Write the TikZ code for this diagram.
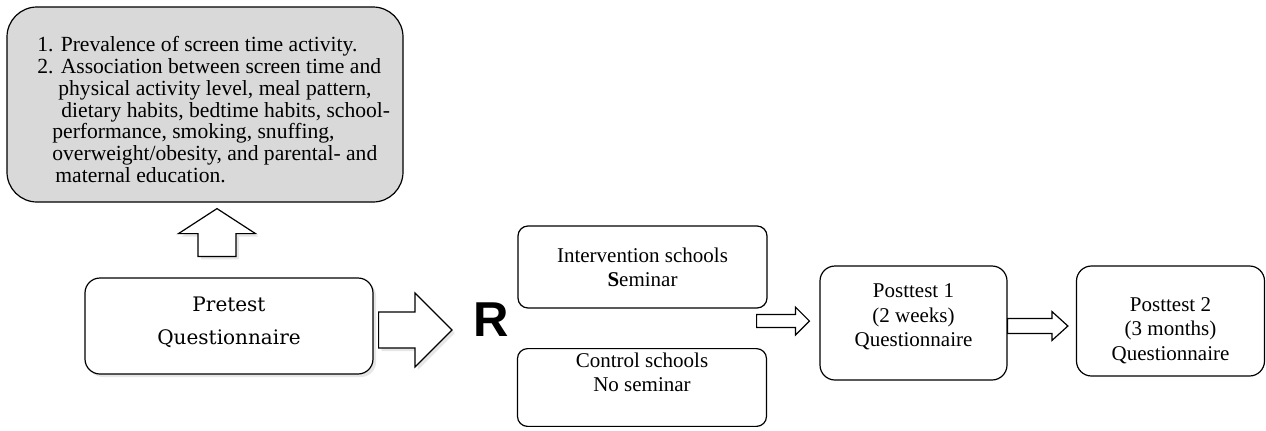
\documentclass[tikz,border=0pt]{standalone}
\usepackage{fontspec}
\setmainfont{Liberation Serif}
\newfontfamily\pretestfont{DejaVu Serif}
\newfontfamily\randfont{Liberation Sans}
\usetikzlibrary{calc,shadows}

\definecolor{goalgray}{HTML}{D9D9D9}

\tikzset{
  roundbox/.style={draw, line width=0.6pt, rounded corners=5pt, align=center, inner sep=2pt},
  postbox/.style={roundbox, rounded corners=7.5pt},
  posttext/.style={align=center, inner sep=0pt, font=\fontsize{10.5}{12.2}\selectfont},
  groupbox/.style={roundbox, minimum width=124.5pt, font=\fontsize{10.5}{12}\selectfont},
  fatarrow/.style={draw, fill=white, line width=0.6pt, line join=miter},
  softshadow/.style={drop shadow={opacity=0.2, shadow xshift=1.5pt, shadow yshift=-1.5pt}}
}

% flecha gruesa horizontal: desde, hasta, medio cuerpo, media punta, largo punta
\newcommand{\fatright}[6][]{%
  \draw[fatarrow,#1] let \p1=(#2), \p2=(#3) in
    (\x1,\y1+#4) -- (\x2-#6,\y1+#4) -- (\x2-#6,\y1+#5) -- (\x2,\y1)
    -- (\x2-#6,\y1-#5) -- (\x2-#6,\y1-#4) -- (\x1,\y1-#4) -- cycle;}
% flecha gruesa hacia arriba
\newcommand{\fatup}[6][]{%
  \draw[fatarrow,#1] let \p1=(#2), \p2=(#3) in
    (\x1-#4,\y1) -- (\x1-#4,\y2-#6) -- (\x1-#5,\y2-#6) -- (\x1,\y2)
    -- (\x1+#5,\y2-#6) -- (\x1+#4,\y2-#6) -- (\x1+#4,\y1) -- cycle;}

\begin{document}
\begin{tikzpicture}[x=0.5pt,y=-0.5pt] % unidades en pixeles de la imagen

    \useasboundingbox (0,0) rectangle (1266,430);

    % Objetivos (caja gris)
    \node[roundbox, fill=goalgray, rounded corners=15pt, minimum width=198pt, minimum height=97.5pt] (goals) at (205,104.5) {};
    \node[anchor=north west, inner sep=0pt, align=left, font=\fontsize{10.8}{10.9}\selectfont] (goalslist) at (37,36)
      {1. Prevalence of screen time activity.\\
       2. Association between screen time and\\
       \hspace*{10.5pt}physical activity level, meal pattern,\\
       \hspace*{12pt}dietary habits, bedtime habits, school-\\
       \hspace*{7.5pt}performance, smoking, snuffing,\\
       \hspace*{7.5pt}overweight/obesity, and parental- and\\
       \hspace*{9pt}maternal education.};

    % Pretest y aleatorizacion
    \node[roundbox, softshadow, fill=white, rounded corners=7.5pt, minimum width=144pt, minimum height=48pt] (pretest) at (229,326) {};
    \node[align=center, inner sep=0pt, font=\pretestfont\fontsize{10}{16.5}\selectfont] (pretesttext) at (229,322) {Pretest\\Questionnaire};
    \node[inner sep=0pt, font=\randfont\bfseries\fontsize{24.5}{24.5}\selectfont] (rand) at (491,320) {R};

    % Grupos
    \node[groupbox, minimum height=41pt] (interv) at (642.5,267) {Intervention schools\\\textbf{S}eminar};
    \node[groupbox, minimum height=37.5pt] (control) at (642,387.5) {Control schools\\No seminar\\\strut};

    % Posttests
    \node[postbox, minimum width=93.5pt, minimum height=57pt] (post1) at (913.5,323) {};
    \node[posttext] (post1text) at (913.5,317) {Posttest 1\\(2 weeks)\\Questionnaire};
    \node[postbox, minimum width=94pt, minimum height=55pt] (post2) at (1170.5,321) {};
    \node[posttext] (post2text) at (1170.5,330.5) {Posttest 2\\(3 months)\\Questionnaire};

    % Flechas
    \fatup[softshadow]{$(pretest.north)+(-12,-21)$}{$(goals.south)+(12,6)$}{9.5pt}{19.25pt}{12.5pt}
    \fatright[softshadow]{$(pretest.east)+(5,4)$}{$(rand.west)+(-21,10)$}{9pt}{18.5pt}{18.5pt}
    \fatright{$(interv.east |- post1.west)+(-11,-2)$}{$(post1.west)+(-10,0)$}{3.25pt}{7pt}{7pt}
    \fatright{$(post1.east)+(0,3)$}{$(post2.west)+(-8,0)$}{3.75pt}{7.25pt}{8pt}
\end{tikzpicture}
\end{document}
